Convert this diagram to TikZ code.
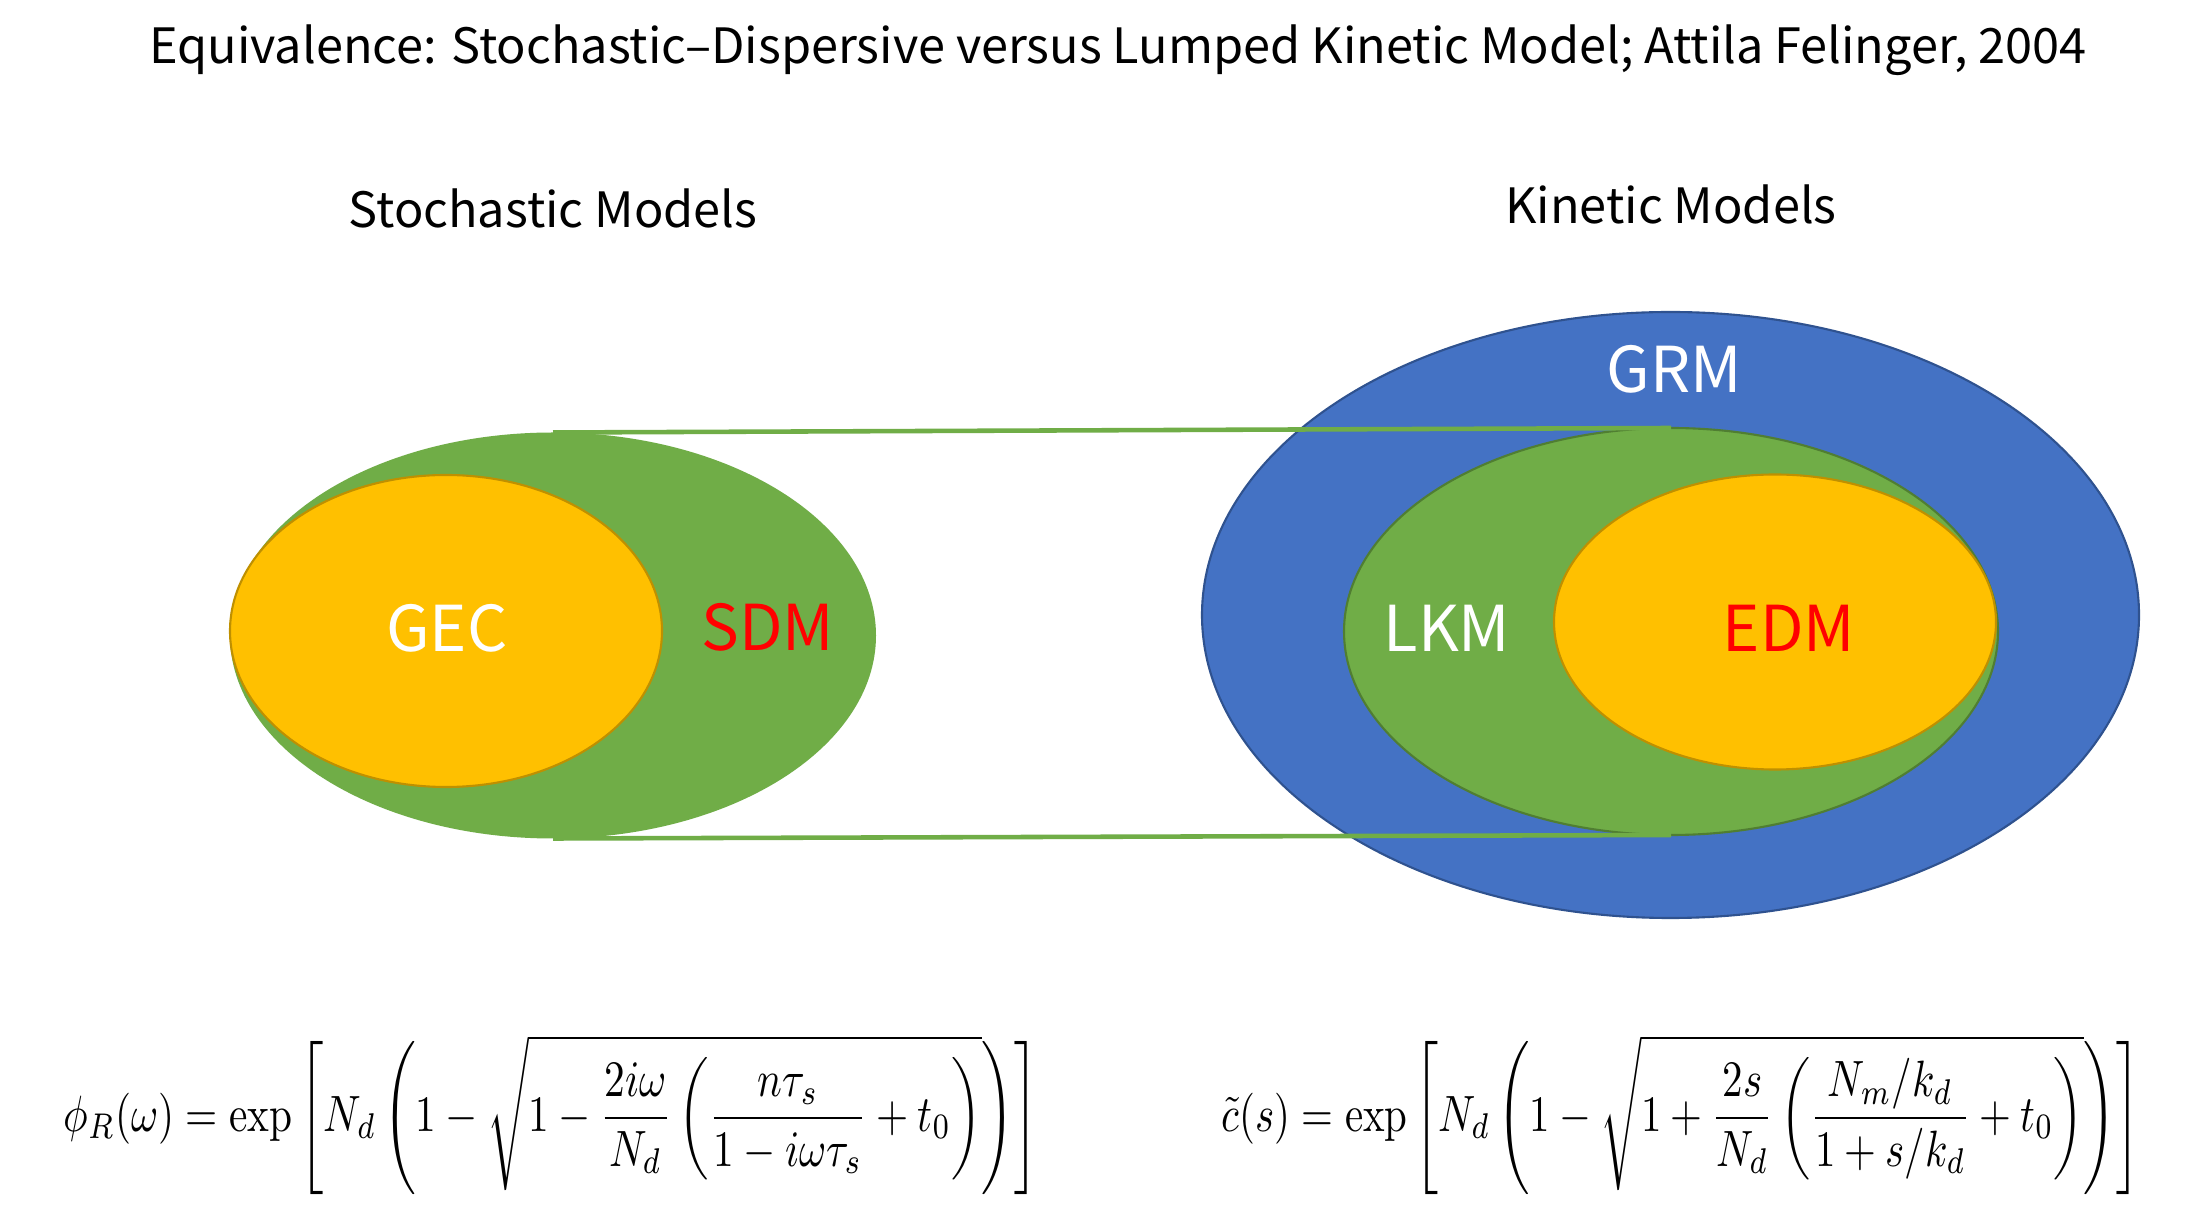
\documentclass[tikz,border=0pt]{standalone}
\usepackage{amsmath}
\usepackage{amssymb}
\usepackage[no-math]{fontspec}
\setmainfont{Noto Sans CJK JP}
\usetikzlibrary{shapes.geometric}

\definecolor{grngreen}{HTML}{70AD47}
\definecolor{grnedge}{HTML}{507E32}
\definecolor{ylwfill}{HTML}{FFC000}
\definecolor{ylwedge}{HTML}{BF9000}
\definecolor{bluefill}{HTML}{4472C4}
\definecolor{blueedge}{HTML}{2F528F}

\begin{document}
\begin{tikzpicture}[
    set/.style={ellipse, inner sep=0pt, outer sep=0pt},
    setlabel/.style={font=\fontsize{18}{22}\selectfont},
    head/.style={font=\fontsize{13.85}{16}\selectfont},
    eqn/.style={inner sep=0pt}
]
\useasboundingbox (0,0) rectangle (22,-12.25);
\fill[white] (0,0) rectangle (22,-12.25);

% Titles
\node[head] (title) at (11.18,-0.50) {Equivalence: Stochastic--Dispersive versus Lumped Kinetic Model; Attila Felinger, 2004};
\node[head] (stoch) at (5.53,-2.08) {Stochastic Models};
\node[head] (kin) at (16.71,-2.04) {Kinetic Models};

% Stochastic side
\node[set, fill=grngreen, minimum width=6.46cm, minimum height=4.06cm] (sdm) at (5.53,-6.355) {};
\node[set, fill=ylwfill, draw=ylwedge, line width=0.6pt, minimum width=4.32cm, minimum height=3.12cm] (gec) at (4.46,-6.31) {};
\node[setlabel, text=white] (geclab) at (4.47,-6.28) {GEC};
\node[setlabel, text=red] (sdmlab) at (7.68,-6.27) {SDM};

% Kinetic side
\node[set, fill=bluefill, draw=blueedge, line width=0.6pt, minimum width=9.37cm, minimum height=6.06cm] (grm) at (16.705,-6.15) {};
\node[set, fill=grngreen, draw=grnedge, line width=0.6pt, minimum width=6.54cm, minimum height=4.07cm] (lkm) at (16.71,-6.315) {};
\node[set, fill=ylwfill, draw=ylwedge, line width=0.6pt, minimum width=4.42cm, minimum height=2.95cm] (edm) at (17.75,-6.22) {};
\node[setlabel, text=white] (grmlab) at (16.74,-3.69) {GRM};
\node[setlabel, text=white] (lkmlab) at (14.47,-6.28) {LKM};
\node[setlabel, text=red] (edmlab) at (17.89,-6.28) {EDM};

% Equivalence lines
\draw[grngreen, line width=1.3pt] (sdm.north) -- (lkm.north);
\draw[grngreen, line width=1.3pt] (sdm.south) -- (lkm.south);

% Equations
\node[eqn] (eqstoch) at (5.51,-11.15) {\resizebox*{9.75cm}{1.6cm}{$\displaystyle \phi_R(\omega)=\exp\left[N_d\left(1-\sqrt{1-\frac{2i\omega}{N_d}\left(\frac{n\tau_s}{1-i\omega\tau_s}+t_0\right)}\right)\right]$}};
\node[eqn] (eqkin) at (16.81,-11.15) {\resizebox*{9.18cm}{1.6cm}{$\displaystyle \tilde{c}(s)=\exp\left[N_d\left(1-\sqrt{1+\frac{2s}{N_d}\left(\frac{N_m/k_d}{1+s/k_d}+t_0\right)}\right)\right]$}};
\end{tikzpicture}
\end{document}
